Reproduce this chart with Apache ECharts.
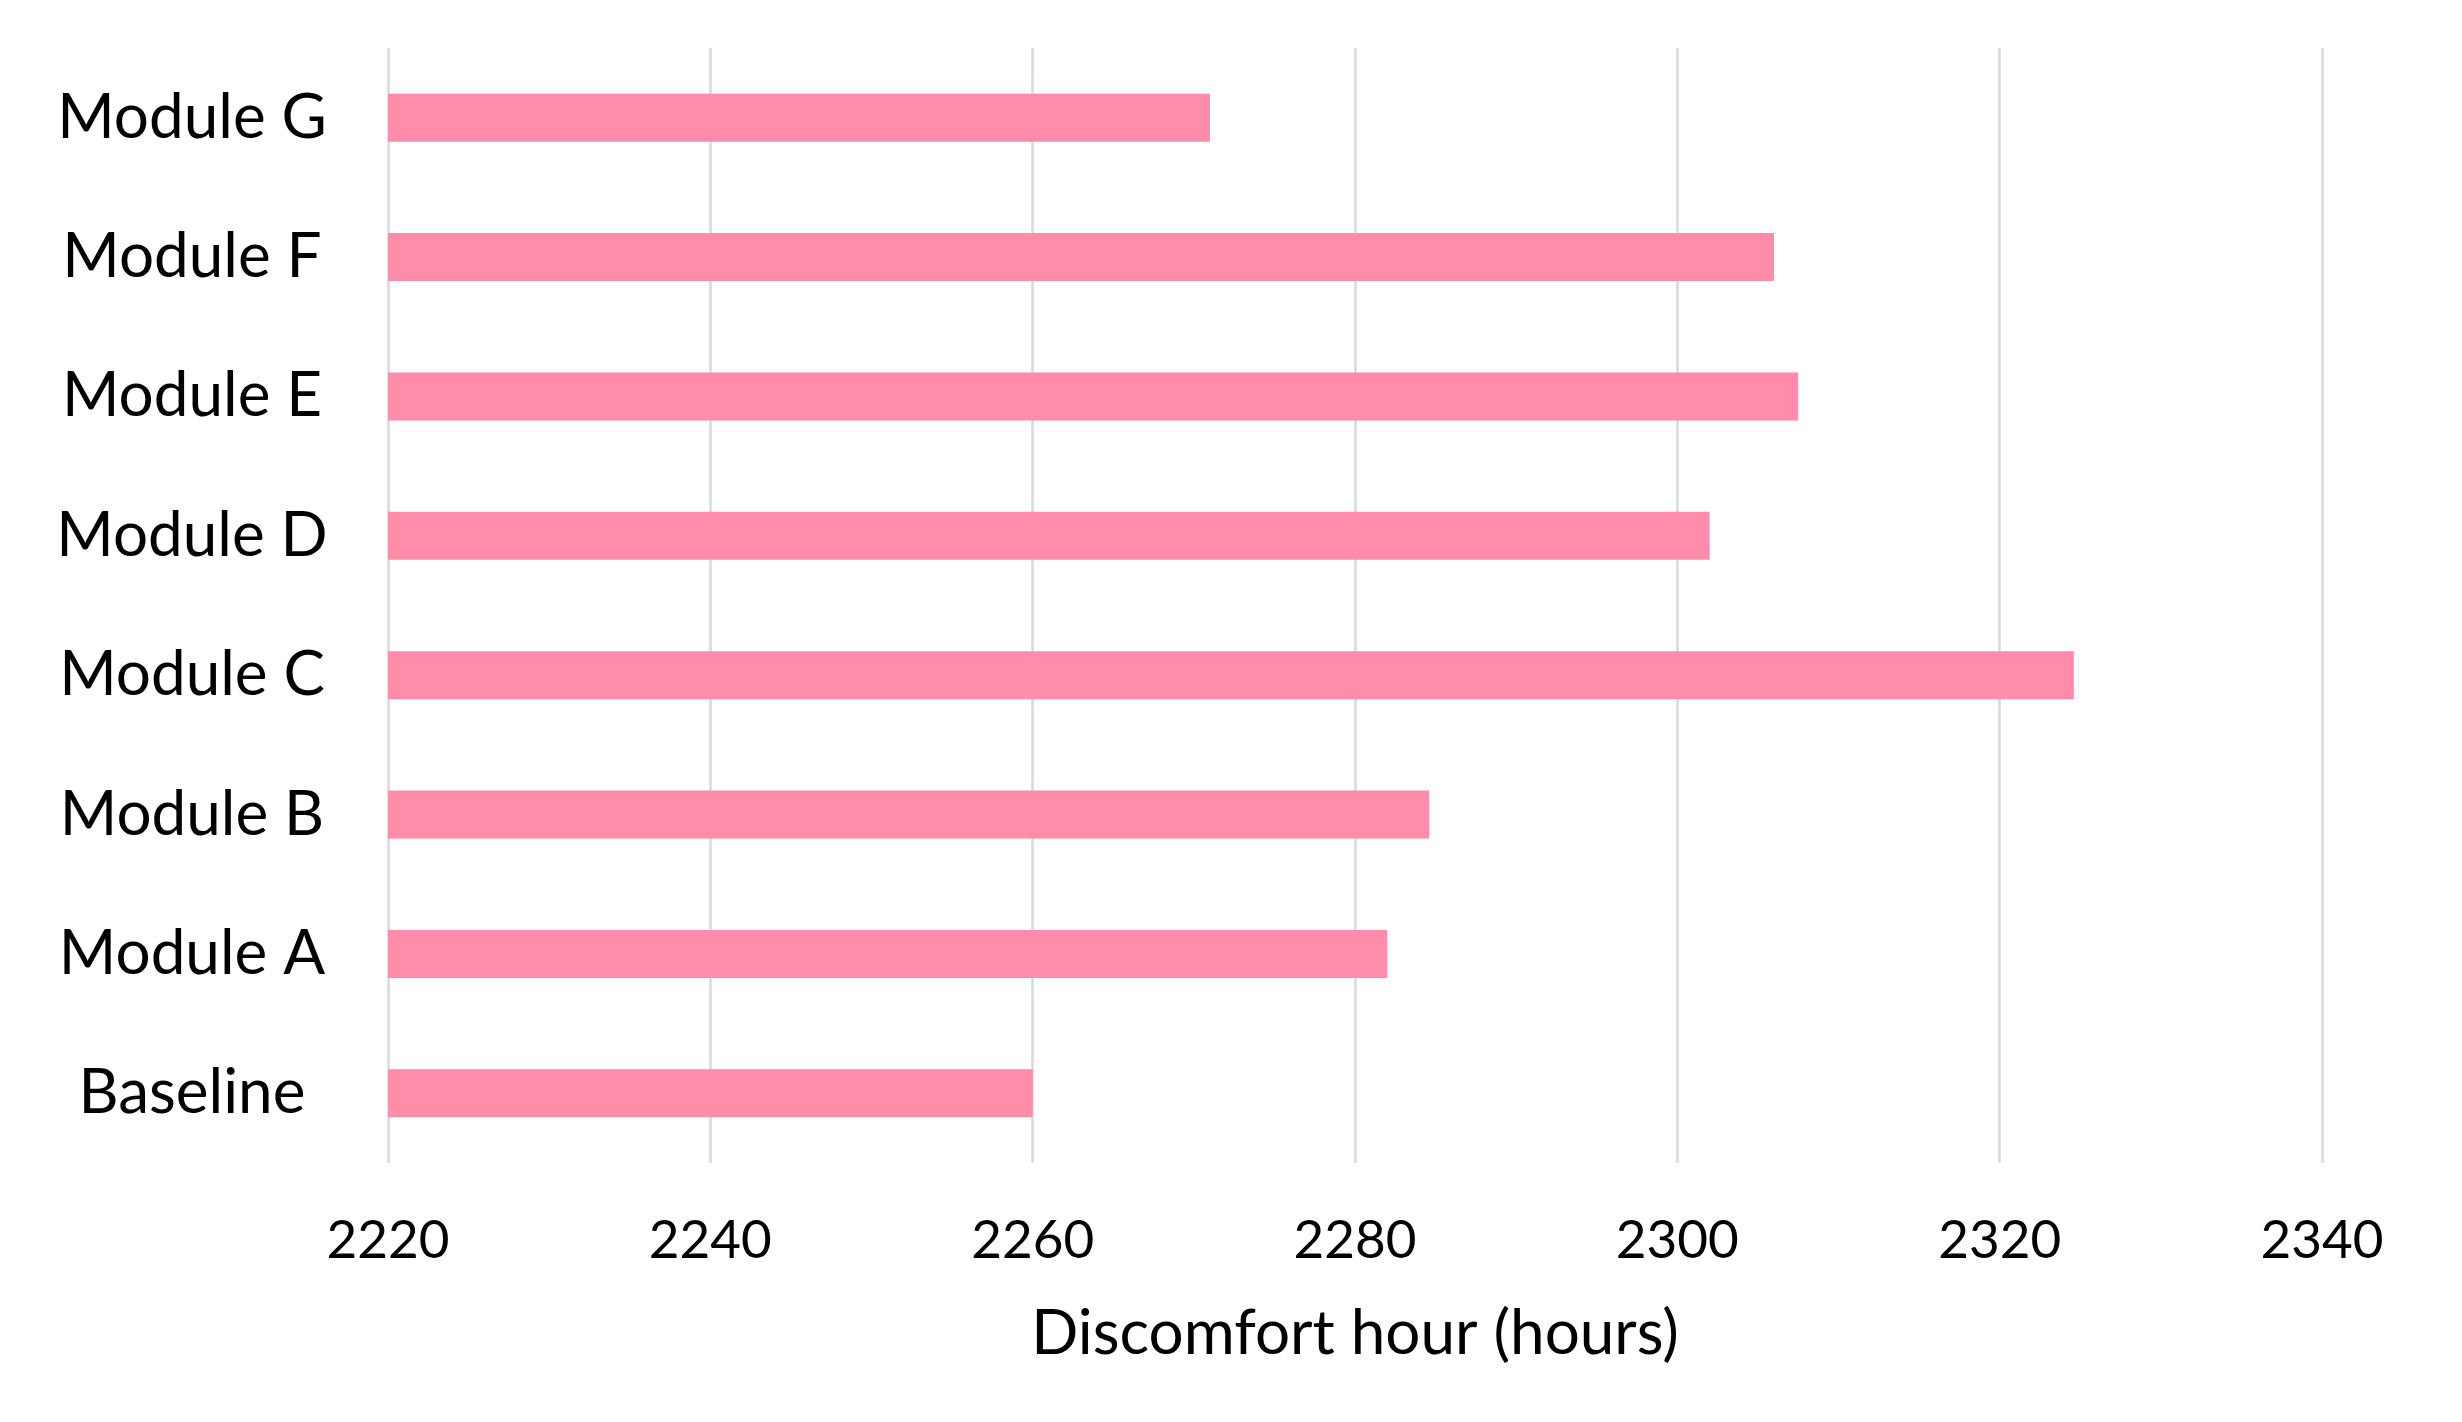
<!DOCTYPE html>
<html lang="en">

<head>
  <meta charset="UTF-8">
  <title>Discomfort hour</title>
  <script src="https://cdn.jsdelivr.net/npm/echarts@6/dist/echarts.min.js"></script>
  <style>
    html, body { margin: 0; padding: 0; background: #fff; }
  </style>
</head>

<body>
  <div id="main" style="width: 2462px;height:1422px;"></div>
  <script>
    // categories, bottom to top
    var categories = ['Baseline', 'Module A', 'Module B', 'Module C', 'Module D', 'Module E', 'Module F', 'Module G'];
    // discomfort hours
    var hours = [2260, 2282, 2284.6, 2324.6, 2302, 2307.5, 2306, 2271];
    var xTicks = [2220, 2240, 2260, 2280, 2300, 2320, 2340];

    var myChart = echarts.init(document.getElementById('main'));

    var option = {
      animation: false,
      backgroundColor: '#fff',
      textStyle: { fontFamily: 'Lato' },
      grid: {
        left: 388,
        right: 140,
        top: 48,
        bottom: 259,
        containLabel: false
      },
      xAxis: {
        type: 'value',
        min: xTicks[0],
        max: xTicks[xTicks.length - 1],
        interval: 20,
        name: 'Discomfort hour (hours)',
        nameLocation: 'middle',
        nameGap: 140,
        nameTextStyle: { color: '#000', fontSize: 62, fontFamily: 'Lato' },
        axisLine: { show: false },
        axisTick: { show: false },
        axisLabel: {
          color: '#000',
          fontSize: 53,
          margin: 51,
          fontFamily: 'Lato',
          // plain numbers, no thousands separator
          formatter: function (v) { return String(v); }
        },
        splitLine: { show: true, lineStyle: { color: '#d9d9d9', width: 2.5 } }
      },
      yAxis: {
        type: 'category',
        data: categories,
        axisLine: { show: false },
        axisTick: { show: false },
        axisLabel: { color: '#000', fontSize: 62, margin: 196, align: 'center', fontFamily: 'Lato' },
        splitLine: { show: false }
      },
      series: [
        {
          name: 'Discomfort hour',
          type: 'bar',
          data: hours,
          barWidth: 48,
          itemStyle: { color: '#ff8ca9' }
        }
      ]
    };

    myChart.setOption(option);
  </script>
</body>

</html>
